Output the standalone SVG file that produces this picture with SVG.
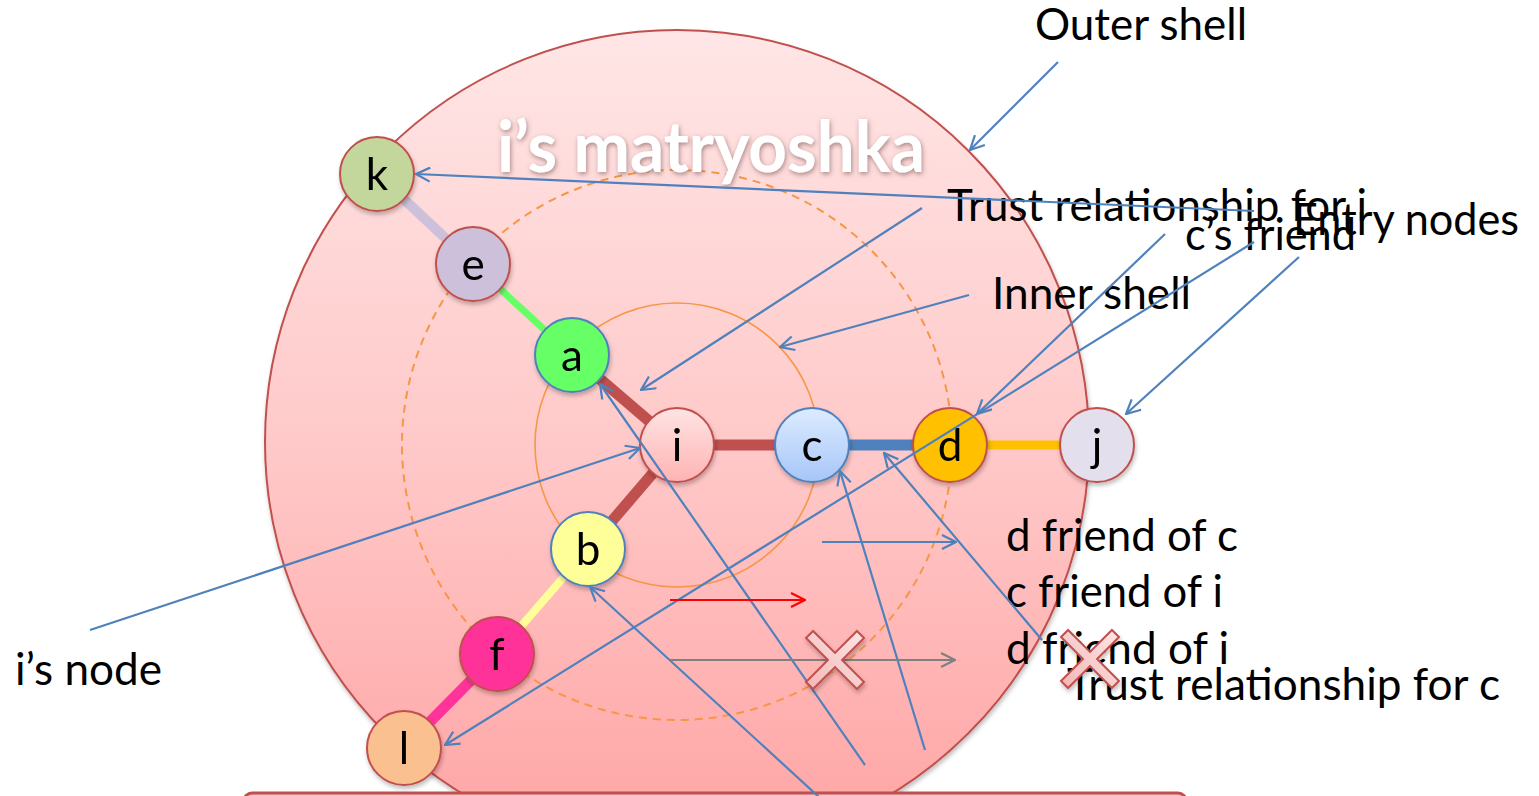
<svg xmlns="http://www.w3.org/2000/svg" width="1539" height="796" viewBox="0 0 1539 796">
  <style>
    .lbl { font-family: Lato, "Liberation Sans", sans-serif; font-size: 44px; fill: #000; }
    .nlbl { font-family: Lato, "Liberation Sans", sans-serif; font-size: 44px; fill: #000; text-anchor: middle; }
    .title { font-family: Lato, "Liberation Sans", sans-serif; font-weight: bold; font-size: 70px; fill: #fff; }
    .ptr { stroke: #4F81BD; stroke-width: 2.2; fill: none; marker-end: url(#openArrow); }
    .edge { fill: none; stroke-linecap: butt; }
    .node circle { stroke-width: 2; }
    .xmark { fill: url(#xFill); stroke: #C0504D; stroke-width: 2; }
  </style>
  <defs>
    <linearGradient id="shellFill" x1="0" y1="0" x2="0" y2="1">
      <stop offset="0" stop-color="#FFE6E6"/>
      <stop offset="0.5" stop-color="#FFC9C9"/>
      <stop offset="1" stop-color="#FFA3A3"/>
    </linearGradient>
    <linearGradient id="iFill" x1="0" y1="0" x2="0" y2="1">
      <stop offset="0" stop-color="#FFE4E4"/>
      <stop offset="1" stop-color="#FFB3B3"/>
    </linearGradient>
    <linearGradient id="cFill" x1="0" y1="0" x2="0" y2="1">
      <stop offset="0" stop-color="#DDEBFF"/>
      <stop offset="1" stop-color="#A6C6F8"/>
    </linearGradient>
    <linearGradient id="xFill" x1="0" y1="0" x2="0" y2="1">
      <stop offset="0" stop-color="#FCE4E4"/>
      <stop offset="1" stop-color="#F4B8B8"/>
    </linearGradient>
    <marker id="openArrow" viewBox="0 0 16 16" refX="15" refY="8" markerWidth="16" markerHeight="16" markerUnits="userSpaceOnUse" orient="auto">
      <path d="M1,1 L15,8 L1,15" fill="none" stroke="#4F81BD" stroke-width="2.2"/>
    </marker>
    <marker id="openArrowRed" viewBox="0 0 16 16" refX="15" refY="8" markerWidth="16" markerHeight="16" markerUnits="userSpaceOnUse" orient="auto">
      <path d="M1,1 L15,8 L1,15" fill="none" stroke="#FF0000" stroke-width="2.2"/>
    </marker>
    <marker id="openArrowGray" viewBox="0 0 16 16" refX="15" refY="8" markerWidth="16" markerHeight="16" markerUnits="userSpaceOnUse" orient="auto">
      <path d="M1,1 L15,8 L1,15" fill="none" stroke="#808080" stroke-width="2.2"/>
    </marker>
    <filter id="soft" x="-20%" y="-20%" width="140%" height="140%">
      <feDropShadow dx="1" dy="3" stdDeviation="2" flood-color="#000" flood-opacity="0.25"/>
    </filter>
    <filter id="titleGlow" x="-10%" y="-30%" width="120%" height="160%">
      <feDropShadow dx="1" dy="2" stdDeviation="2.5" flood-color="#6E4A4A" flood-opacity="0.6"/>
    </filter>
  </defs>

  <!-- shells -->
  <g id="outer-shell">
    <circle cx="677" cy="442" r="412" fill="url(#shellFill)" stroke="#C0504D" stroke-width="2" filter="url(#soft)"/>
  </g>
  <g id="middle-shell">
    <circle cx="677" cy="445" r="275" fill="none" stroke="#F79646" stroke-width="2" stroke-dasharray="8,6"/>
  </g>
  <g id="inner-shell">
    <circle cx="677" cy="445" r="142" fill="none" stroke="#F79646" stroke-width="1.6"/>
  </g>

  <!-- base bar -->
  <rect x="244" y="793" width="942" height="40" rx="8" fill="#F8C4C4" stroke="#C0504D" stroke-width="3"/>

  <g id="title">
    <text class="title" x="497" y="172" textLength="428" lengthAdjust="spacingAndGlyphs" filter="url(#titleGlow)">i’s matryoshka</text>
  </g>

  <!-- trust edges -->
  <g id="edges">
    <line class="edge" x1="377" y1="174" x2="473" y2="264" stroke="#CCC0DA" stroke-width="10"/>
    <line class="edge" x1="473" y1="264" x2="572" y2="355" stroke="#66FF66" stroke-width="7"/>
    <line class="edge" x1="572" y1="355" x2="677" y2="445" stroke="#C0504D" stroke-width="11"/>
    <line class="edge" x1="677" y1="445" x2="812" y2="445" stroke="#C0504D" stroke-width="11"/>
    <line class="edge" x1="812" y1="445" x2="950" y2="445" stroke="#4F81BD" stroke-width="11"/>
    <line class="edge" x1="950" y1="445" x2="1097" y2="445" stroke="#FFC000" stroke-width="9"/>
    <line class="edge" x1="677" y1="445" x2="588" y2="549" stroke="#C0504D" stroke-width="11"/>
    <line class="edge" x1="588" y1="549" x2="497" y2="654" stroke="#FFFF99" stroke-width="8"/>
    <line class="edge" x1="497" y1="654" x2="404" y2="748" stroke="#FF3399" stroke-width="11"/>
  </g>

  <!-- nodes -->
  <g id="node-k" class="node" filter="url(#soft)">
    <circle cx="377" cy="174" r="37" fill="#C3D69B" stroke="#C0504D"/>
    <text class="nlbl" x="377" y="190">k</text>
  </g>
  <g id="node-e" class="node" filter="url(#soft)">
    <circle cx="473" cy="264" r="37" fill="#CCC0DA" stroke="#C0504D"/>
    <text class="nlbl" x="473" y="280">e</text>
  </g>
  <g id="node-a" class="node" filter="url(#soft)">
    <circle cx="572" cy="355" r="37" fill="#66FF66" stroke="#4F81BD"/>
    <text class="nlbl" x="572" y="371">a</text>
  </g>
  <g id="node-i" class="node" filter="url(#soft)">
    <circle cx="677" cy="445" r="37" fill="url(#iFill)" stroke="#C0504D"/>
    <text class="nlbl" x="677" y="461">i</text>
  </g>
  <g id="node-c" class="node" filter="url(#soft)">
    <circle cx="812" cy="445" r="37" fill="url(#cFill)" stroke="#4F81BD"/>
    <text class="nlbl" x="812" y="461">c</text>
  </g>
  <g id="node-d" class="node" filter="url(#soft)">
    <circle cx="950" cy="445" r="37" fill="#FFC000" stroke="#C0504D"/>
    <text class="nlbl" x="950" y="461">d</text>
  </g>
  <g id="node-j" class="node" filter="url(#soft)">
    <circle cx="1097" cy="445" r="37" fill="#E4DFEC" stroke="#C0504D"/>
    <text class="nlbl" x="1097" y="461">j</text>
  </g>
  <g id="node-b" class="node" filter="url(#soft)">
    <circle cx="588" cy="549" r="37" fill="#FFFF99" stroke="#4F81BD"/>
    <text class="nlbl" x="588" y="565">b</text>
  </g>
  <g id="node-f" class="node" filter="url(#soft)">
    <circle cx="497" cy="654" r="37" fill="#FF3399" stroke="#C0504D"/>
    <text class="nlbl" x="497" y="670">f</text>
  </g>
  <g id="node-l" class="node" filter="url(#soft)">
    <circle cx="404" cy="748" r="37" fill="#FAC090" stroke="#C0504D"/>
    <text class="nlbl" x="404" y="764">l</text>
  </g>

  <!-- annotation labels -->
  <g id="labels">
    <text class="lbl" x="1035" y="40" textLength="212" lengthAdjust="spacingAndGlyphs">Outer shell</text>
    <text class="lbl" x="947" y="221" textLength="420" lengthAdjust="spacingAndGlyphs">Trust relationship for i</text>
    <text class="lbl" x="1293" y="235" textLength="226" lengthAdjust="spacingAndGlyphs">Entry nodes</text>
    <text class="lbl" x="1185" y="250" textLength="171" lengthAdjust="spacingAndGlyphs">c’s friend</text>
    <text class="lbl" x="992" y="309" textLength="199" lengthAdjust="spacingAndGlyphs">Inner shell</text>
    <text class="lbl" x="1006" y="551" textLength="232" lengthAdjust="spacingAndGlyphs">d friend of c</text>
    <text class="lbl" x="1006" y="607" textLength="217" lengthAdjust="spacingAndGlyphs">c friend of i</text>
    <text class="lbl" x="1006" y="664" textLength="223" lengthAdjust="spacingAndGlyphs">d friend of i</text>
    <text class="lbl" x="1067" y="700" textLength="433" lengthAdjust="spacingAndGlyphs">Trust relationship for c</text>
    <text class="lbl" x="15" y="685" textLength="147" lengthAdjust="spacingAndGlyphs">i’s node</text>
  </g>

  <!-- pointers -->
  <g id="connectors">
    <line class="ptr" x1="1058" y1="62" x2="970" y2="150"/>
    <line class="ptr" x1="1254" y1="211" x2="416" y2="174"/>
    <line class="ptr" x1="922" y1="208" x2="641" y2="390"/>
    <line class="ptr" x1="969" y1="295" x2="780" y2="347"/>
    <line class="ptr" x1="1165" y1="234" x2="977" y2="414"/>
    <line class="ptr" x1="1254" y1="242" x2="445" y2="745"/>
    <line class="ptr" x1="1299" y1="257" x2="1126" y2="414"/>
    <line class="ptr" x1="90" y1="630" x2="640" y2="448"/>
    <line class="ptr" x1="865" y1="765" x2="600" y2="384"/>
    <line class="ptr" x1="925" y1="750" x2="840" y2="471"/>
    <line class="ptr" x1="1042" y1="640" x2="884" y2="453"/>
    <line class="ptr" x1="820" y1="798" x2="590" y2="587"/>
    <line class="ptr" x1="822" y1="542" x2="956" y2="542"/>
    <line x1="670" y1="600" x2="805" y2="600" stroke="#FF0000" stroke-width="2.2" marker-end="url(#openArrowRed)"/>
    <line x1="670" y1="660" x2="955" y2="660" stroke="#808080" stroke-width="2.2" marker-end="url(#openArrowGray)"/>
  </g>

  <!-- crossed-out marks -->
  <g id="x-mark-1" filter="url(#soft)">
    <path class="xmark" transform="translate(835 660) rotate(45)" d="M-5,-36 H5 V-5 H36 V5 H5 V36 H-5 V5 H-36 V-5 H-5 Z"/>
  </g>
  <g id="x-mark-2" filter="url(#soft)">
    <path class="xmark" transform="translate(1090 659) rotate(45)" d="M-5,-36 H5 V-5 H36 V5 H5 V36 H-5 V5 H-36 V-5 H-5 Z"/>
  </g>
</svg>
